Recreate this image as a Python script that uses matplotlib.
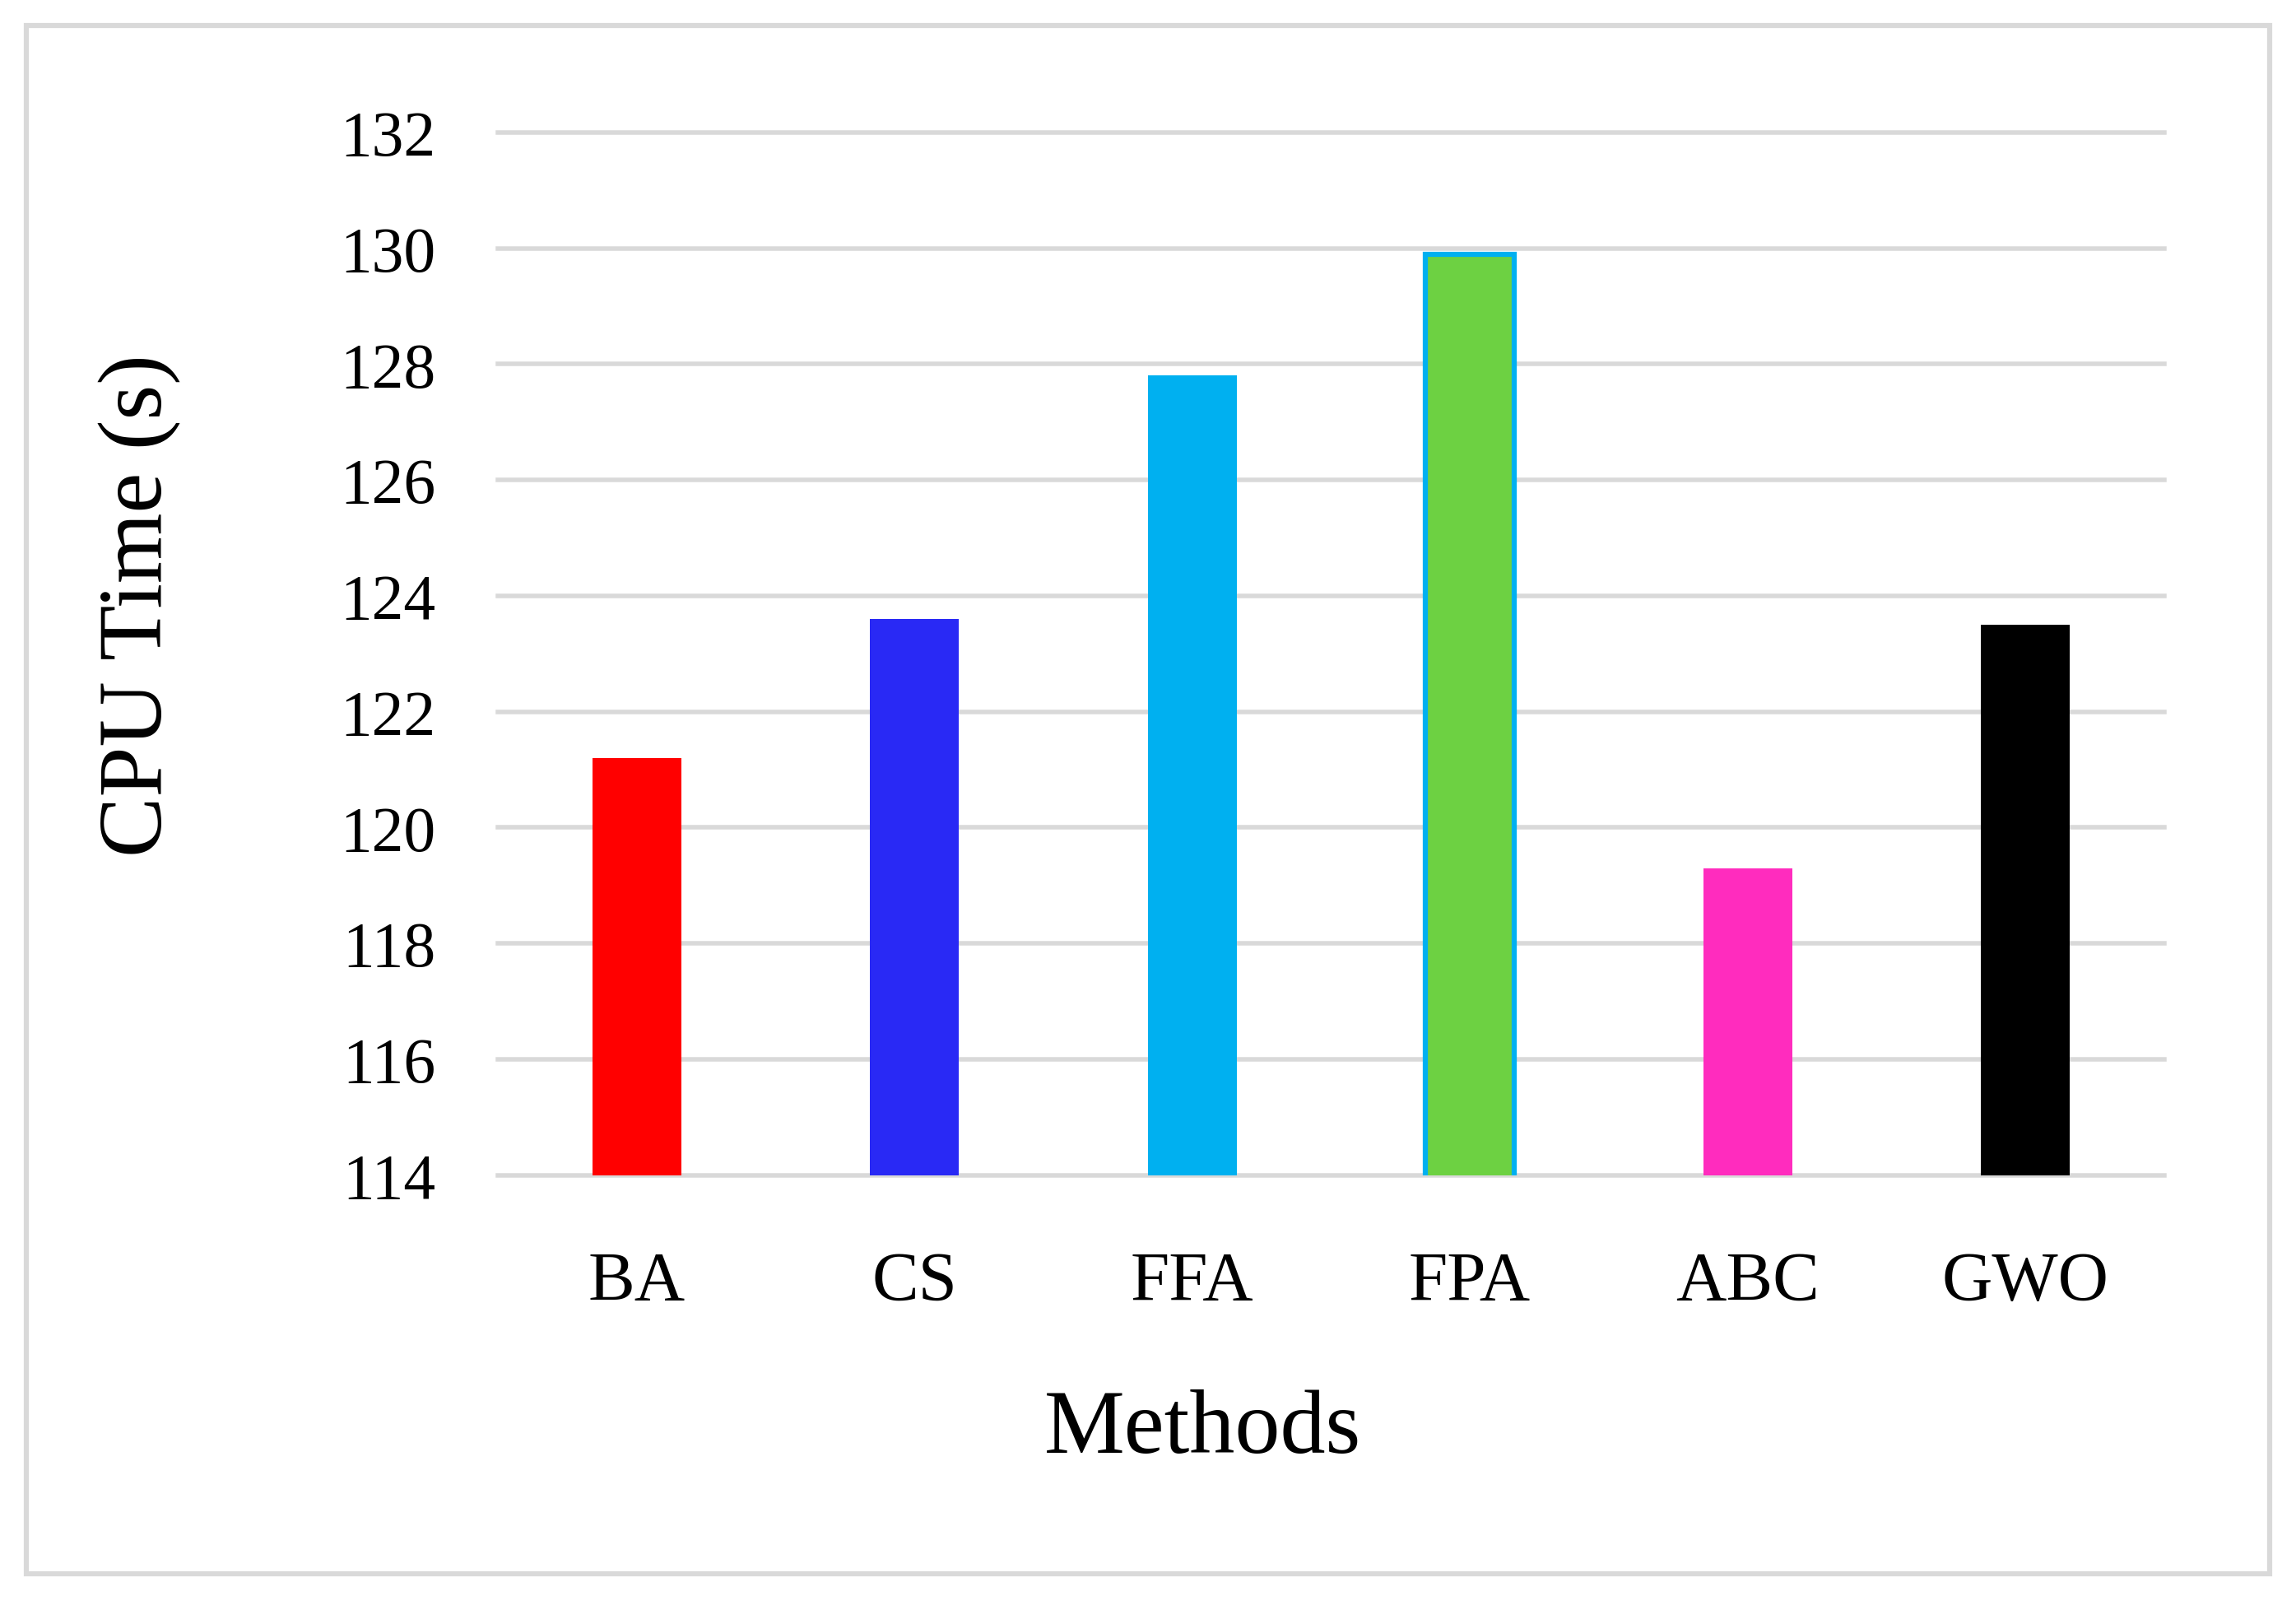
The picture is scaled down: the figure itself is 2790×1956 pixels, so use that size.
import matplotlib.pyplot as plt
from matplotlib.patches import Rectangle

# Data
methods = ["BA", "CS", "FFA", "FPA", "ABC", "GWO"]
cpu_time = [121.2, 123.6, 127.8, 129.9, 119.3, 123.5]
bar_colors = ["#ff0000", "#2929f5", "#00b0f0", "#6dd142", "#ff2cbe", "#000000"]
y_ticks = [114, 116, 118, 120, 122, 124, 126, 128, 130, 132]

plt.rcParams["font.family"] = ["Liberation Serif", "DejaVu Serif"]

fig = plt.figure(figsize=(15.5, 10.872), dpi=180)
ax = fig.add_axes([0.2168, 0.27, 0.7258, 0.6473])

bars = ax.bar(methods, cpu_time, width=0.32, color=bar_colors, zorder=3)
# FPA bar has a blue outline
bars[3].set_edgecolor("#00b0f0")
bars[3].set_linewidth(2.5)

ax.set_ylim(114, 132)
ax.set_xlim(-0.5, len(methods) - 0.5)
ax.set_yticks(y_ticks)
ax.yaxis.grid(True, color="#d9d9d9", linewidth=2.2, zorder=0)
for line in ax.get_ygridlines():
    line.set_clip_on(False)
ax.set_axisbelow(True)

for s in ax.spines.values():
    s.set_visible(False)
ax.tick_params(axis="both", length=0)
ax.tick_params(axis="y", labelsize=31, pad=30)
ax.tick_params(axis="x", labelsize=34, pad=37)

fig.text(0.524, 0.112, "Methods", fontsize=44, ha="center", va="center")
fig.text(0.061, 0.624, "CPU Time (s)", fontsize=44, ha="center", va="center",
         rotation=90)

# light frame around the figure
fig.patches.append(Rectangle((0.0115, 0.0227), 0.977, 0.961,
                             transform=fig.transFigure, fill=False,
                             edgecolor="#d9d9d9", linewidth=2.5))

fig.savefig("out.png", dpi=180)
